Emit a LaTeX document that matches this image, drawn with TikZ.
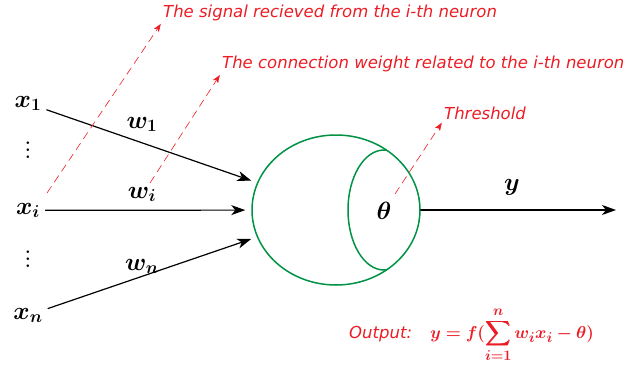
\documentclass[tikz,border=0pt]{standalone}
\usepackage{fontspec}
\usepackage{amsmath}
\usepackage{bm}
\usetikzlibrary{arrows.meta,shapes.geometric}
\newfontfamily\notefont{DejaVu Sans}
\definecolor{notered}{RGB}{236,28,36}
\definecolor{cellgreen}{RGB}{0,146,69}
\def\cellx{336}
\def\celly{210}
\def\cellrx{84}
\def\cellry{75}
\newcommand{\skipdots}{\vbox{\baselineskip7pt\lineskiplimit0pt\hbox{.}\hbox{.}\hbox{.}}}

\begin{document}
\begin{tikzpicture}[x=1pt,y=-1pt,line cap=round,
  sym/.style={font=\fontsize{26}{30}\selectfont,anchor=base},
  gap/.style={font=\bfseries\fontsize{18}{20}\selectfont,inner sep=0pt},
  sig/.style={line width=1.2pt,-{Stealth[length=14pt,width=10pt,inset=4pt]}},
  note/.style={notered,font=\notefont\itshape\fontsize{16.5}{19}\selectfont,inner sep=0pt,anchor=base west},
  hint/.style={notered,line width=0.6pt,line cap=butt,dash pattern=on 8pt off 5pt,-{Stealth[length=8pt,width=6pt,inset=2pt]},shorten >=4pt},
  cell/.style={cellgreen,line width=1.5pt}]
  \useasboundingbox (0,0) rectangle (632,367);
  % inputs and weights
  \foreach \n/\y/\wy in {1/107/128, i/214/198, n/319/270} {
    \node[sym] (x\n) at (28,\y) {$\bm{x_\n}$};
    \node[sym] (w\n) at (142,\wy) {$\bm{w_\n}$};
  }
  \node[gap] (d1) at (28,150) {\skipdots};
  \node[gap] (d2) at (28,259) {\skipdots};
  % neuron
  \node[cell,draw,ellipse,minimum width=168pt,minimum height=150pt,inner sep=0pt] (neuron) at (\cellx,\celly) {};
  \begin{scope}
    \clip (neuron.center) ellipse [x radius=\cellrx,y radius=\cellry];
    \draw[cell] (384,\celly) ellipse [x radius=36,y radius=60];
  \end{scope}
  \node[sym] (theta) at (384,219) {$\bm{\theta}$};
  \foreach \n in {1,i,n} { \draw[sig,shorten <=2pt,shorten >=6pt] (x\n) -- (neuron); }
  % output
  \coordinate (yend) at (616,\celly);
  \draw[sig] (neuron.east) -- (yend);
  \node[sym] (ylab) at (512,190) {$\bm{y}$};
  % notes
  \node[note] (sigtxt) at (163,17) {The signal recieved from the i-th neuron};
  \node[note] (wtxt) at (222,68) {The connection weight related to the i-th neuron};
  \node[note] (thtxt) at (444,119) {Threshold};
  \coordinate (s1) at (47,193);
  \coordinate (s2) at (150,183);
  \coordinate (s3) at (395,194);
  \draw[hint] (s1) -- (sigtxt.south west);
  \draw[hint] (s2) -- (wtxt.south west);
  \draw[hint] (s3) -- (thtxt.south west);
  \node[note] (outtxt) at (349,338) {Output:};
  \node[notered,anchor=base west,inner sep=0pt,font=\fontsize{19}{22}\selectfont] (formula) at (430,338) {$\displaystyle\bm{y=f(\sum_{i=1}^{n}w_ix_i-\theta)}$};
\end{tikzpicture}
\end{document}
